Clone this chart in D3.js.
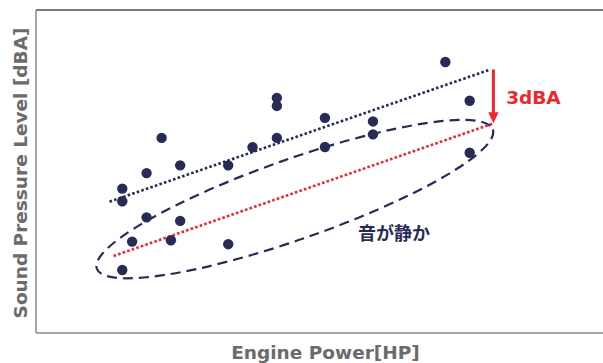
<!DOCTYPE html>
<html>
<head>
<meta charset="utf-8">
<script src="https://cdn.jsdelivr.net/npm/d3@7"></script>
<style>
  html, body { margin: 0; padding: 0; background: #fff; }
  svg { display: block; }
</style>
</head>
<body>
<svg id="chart" width="603" height="363"></svg>
<script>
// ---- data (arbitrary relative units) ----
const enginePower = [70.7, 74.9, 74.9, 41.6, 41.6, 49.9, 58.2, 58.2, 21.7, 41.6, 37.4, 49.9,
                     19.1, 24.9, 33.2, 14.9, 14.9, 19.1, 24.9, 16.6, 23.3, 33.2, 14.9];
const soundLevel  = [83.9, 71.9, 55.8, 72.8, 70.3, 66.6, 65.5, 61.5, 60.4, 60.4, 57.5, 57.6,
                     49.5, 51.9, 51.9, 44.7, 40.8, 35.8, 34.7, 28.3, 28.7, 27.5, 19.5];
// trend lines: [x0, y0, x1, y1]
const conventionalTrend = [12.7, 40.65, 78.5, 81.6];
const quietTrend        = [13.4, 23.84, 79.0, 64.9];
// 3 dBA reduction arrow: x, from y, to y
const reductionArrow = [79.0, 81.6, 64.9];
// highlight ellipse major-axis end points: [x0, y0, x1, y1]
const quietEllipse = [10.5, 19.9, 78.9, 63.0];
const labels = {
  xTitle: "Engine Power[HP]",
  yTitle: "Sound Pressure Level [dBA]",
  reduction: "3dBA",
  quiet: "音が静か"
};
const reductionLabelPos = [81.2, 70.9];
const quietLabelPos = [55.6, 28.8];

// ---- drawing ----
const svg = d3.select("#chart");
const x = d3.scaleLinear().domain([0, 100]).range([36, 615]);
const y = d3.scaleLinear().domain([0, 100]).range([333, 10]);

const navy = "#282b55";
const red = "#ec2730";
const gray = "#6b6b6b";

// frame
svg.append("line").attr("x1", x(0)).attr("x2", x(100)).attr("y1", y(100)).attr("y2", y(100))
  .attr("stroke", "#4d4d4d").attr("stroke-width", 1.5);
svg.append("line").attr("x1", x(0)).attr("x2", x(100)).attr("y1", y(0)).attr("y2", y(0))
  .attr("stroke", "#8a8a8a").attr("stroke-width", 1.5);
svg.append("line").attr("x1", x(0)).attr("x2", x(0)).attr("y1", y(100)).attr("y2", y(0))
  .attr("stroke", "#8a8a8a").attr("stroke-width", 1.5);
svg.append("line").attr("x1", x(100)).attr("x2", x(100)).attr("y1", y(100)).attr("y2", y(0))
  .attr("stroke", "#8a8a8a").attr("stroke-width", 1.5);

// axis titles
svg.append("text")
  .attr("transform", `translate(27, ${(y(0) + y(100)) / 2 + 1.5}) rotate(-90)`)
  .attr("text-anchor", "middle")
  .attr("font-family", "DejaVu Sans, Verdana, sans-serif")
  .attr("font-weight", "bold")
  .attr("font-size", 18.5)
  .attr("fill", gray)
  .text(labels.yTitle);

svg.append("text")
  .attr("x", 325.5).attr("y", 359)
  .attr("text-anchor", "middle")
  .attr("font-family", "DejaVu Sans, Verdana, sans-serif")
  .attr("font-weight", "bold")
  .attr("font-size", 18.5)
  .attr("fill", gray)
  .text(labels.xTitle);

// ellipse
{
  const p1 = [x(quietEllipse[0]), y(quietEllipse[1])];
  const p2 = [x(quietEllipse[2]), y(quietEllipse[3])];
  const cx = (p1[0] + p2[0]) / 2, cy = (p1[1] + p2[1]) / 2;
  const a = Math.hypot(p2[0] - p1[0], p2[1] - p1[1]) / 2;
  const ang = Math.atan2(p2[1] - p1[1], p2[0] - p1[0]) * 180 / Math.PI;
  svg.append("ellipse")
    .attr("cx", cx).attr("cy", cy).attr("rx", a).attr("ry", 40)
    .attr("transform", `rotate(${ang}, ${cx}, ${cy})`)
    .attr("fill", "none")
    .attr("stroke", navy)
    .attr("stroke-width", 2.2)
    .attr("stroke-dasharray", "10,6");
}

// trend lines
svg.append("line")
  .attr("x1", x(conventionalTrend[0])).attr("y1", y(conventionalTrend[1]))
  .attr("x2", x(conventionalTrend[2])).attr("y2", y(conventionalTrend[3]))
  .attr("stroke", navy).attr("stroke-width", 2.6).attr("stroke-dasharray", "2.6,2.2");
svg.append("line")
  .attr("x1", x(quietTrend[0])).attr("y1", y(quietTrend[1]))
  .attr("x2", x(quietTrend[2])).attr("y2", y(quietTrend[3]))
  .attr("stroke", red).attr("stroke-width", 2.6).attr("stroke-dasharray", "2.6,2.2");

// points
svg.append("g").selectAll("circle")
  .data(d3.range(enginePower.length))
  .join("circle")
  .attr("cx", i => x(enginePower[i]))
  .attr("cy", i => y(soundLevel[i]))
  .attr("r", 5.2)
  .attr("fill", navy);

// arrow
{
  const ax = x(reductionArrow[0]);
  const y0 = y(reductionArrow[1]);
  const y1 = y(reductionArrow[2]);
  svg.append("line")
    .attr("x1", ax).attr("x2", ax).attr("y1", y0).attr("y2", y1 - 10)
    .attr("stroke", red).attr("stroke-width", 3);
  svg.append("path")
    .attr("d", `M${ax - 5.2},${y1 - 11} L${ax + 5.2},${y1 - 11} L${ax},${y1} Z`)
    .attr("fill", red);
}

// labels
svg.append("text")
  .attr("x", x(reductionLabelPos[0])).attr("y", y(reductionLabelPos[1]))
  .attr("font-family", "DejaVu Sans, Verdana, sans-serif")
  .attr("font-weight", "bold")
  .attr("font-size", 18.5)
  .attr("fill", red)
  .text(labels.reduction);

svg.append("text")
  .attr("x", x(quietLabelPos[0])).attr("y", y(quietLabelPos[1]))
  .attr("font-family", "Noto Sans CJK JP, sans-serif")
  .attr("font-weight", "bold")
  .attr("font-size", 18)
  .attr("fill", navy)
  .text(labels.quiet);
</script>
</body>
</html>
